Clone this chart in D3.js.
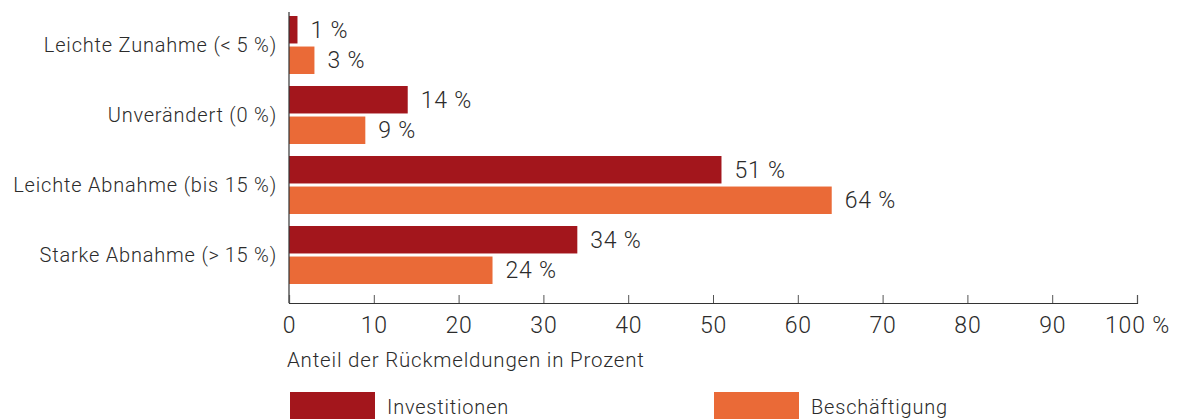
<!DOCTYPE html>
<html>
<head>
<meta charset="utf-8">
<style>
  body { margin: 0; background: #fff; }
  text { font-family: Roboto, "Noto Sans", sans-serif; font-weight: 300; fill: #2b2b2b; letter-spacing: 0.8px; }
</style>
</head>
<body>
<svg width="1188" height="419"></svg>
<script src="https://d3js.org/d3.v7.min.js"></script>
<script>
const categories = ["Leichte Zunahme (<\u20095 %)", "Unverändert (0 %)", "Leichte Abnahme (bis 15 %)", "Starke Abnahme (>\u200915 %)"];
const series = ["Investitionen", "Beschäftigung"];
const investitionen = [1, 14, 51, 34];
const beschaeftigung = [3, 9, 64, 24];
const ticks = [0, 10, 20, 30, 40, 50, 60, 70, 80, 90, 100];
const colors = ["#a3161c", "#ea6a37"];

const svg = d3.select("svg");
const x = d3.scaleLinear().domain([0, 100]).range([289, 1137]);
const y = d3.scaleBand().domain(categories).range([13, 293]).paddingInner(0).paddingOuter(0);
const inner = d3.scaleBand().domain(series).range([3, 61]).paddingInner(0.1);

const values = [investitionen, beschaeftigung];

categories.forEach((c, i) => {
  const g = svg.append("g").attr("transform", `translate(0,${y(c)})`);
  series.forEach((s, j) => {
    const v = values[j][i];
    g.append("rect")
      .attr("x", x(0)).attr("y", inner(s))
      .attr("width", x(v) - x(0)).attr("height", inner.bandwidth())
      .attr("fill", colors[j]);
    g.append("text")
      .attr("x", x(v) + 13).attr("y", inner(s) + inner.bandwidth() / 2)
      .attr("dy", "0.35em").attr("font-size", 23)
      .text(v + " %");
  });
  g.append("text")
    .attr("x", 277).attr("y", 32)
    .attr("dy", "0.35em").attr("text-anchor", "end").attr("font-size", 20)
    .text(c);
});

// vertical axis line
svg.append("line").attr("x1", x(0)).attr("x2", x(0)).attr("y1", 12).attr("y2", 303)
  .attr("stroke", "#333").attr("stroke-width", 1.2);

const axis = svg.append("g").attr("transform", "translate(0,303)")
  .call(d3.axisTop(x).tickValues(ticks).tickSize(8).tickFormat(""));
axis.select(".domain").attr("stroke", "#333").attr("stroke-width", 1.2);
axis.selectAll(".tick line").attr("stroke", "#555");
axis.selectAll(".tick").append("text")
  .attr("y", 22).attr("dy", "0.35em").attr("text-anchor", "middle").attr("font-size", 23)
  .text(d => d === 100 ? "100 %" : d);

svg.append("text").attr("x", 287).attr("y", 360).attr("dy", "0.35em")
  .attr("font-size", 20.5).text("Anteil der Rückmeldungen in Prozent");

// legend
const legendX = [290, 714];
series.forEach((s, j) => {
  svg.append("rect").attr("x", legendX[j]).attr("y", 392).attr("width", 85).attr("height", 27)
    .attr("fill", colors[j]);
  svg.append("text").attr("x", legendX[j] + 97).attr("y", 407).attr("dy", "0.35em")
    .attr("font-size", 20).text(s);
});
</script>
</body>
</html>
